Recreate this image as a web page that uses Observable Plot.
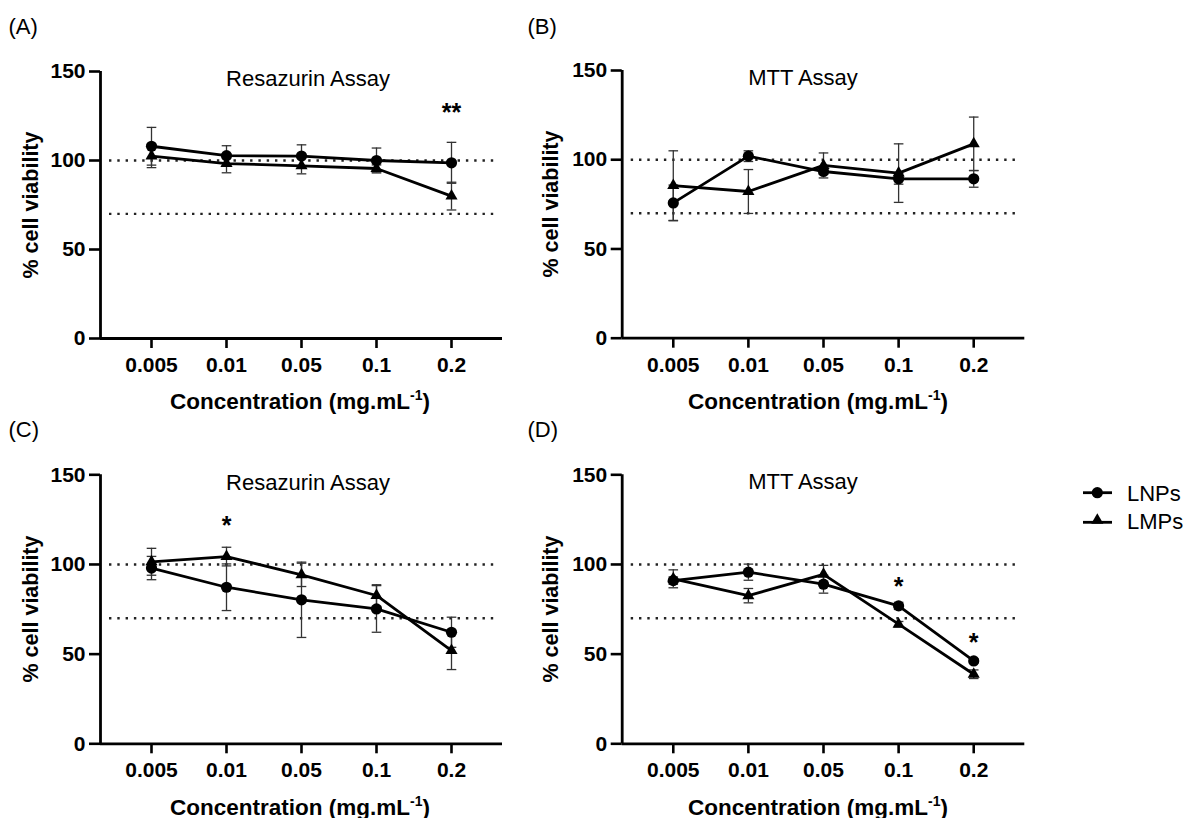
<!DOCTYPE html>
<html><head><meta charset="utf-8">
<script src="https://cdn.jsdelivr.net/npm/d3@7"></script>
<script src="https://cdn.jsdelivr.net/npm/@observablehq/plot@0.6"></script>
<style>
html,body{margin:0;padding:0;background:#fff;}
body{width:1183px;height:818px;position:relative;overflow:hidden;font-family:"Liberation Sans",Arial,sans-serif;color:#000;}
.abs{position:absolute;white-space:nowrap;line-height:21px;font-size:22px;}
.bold{font-weight:bold;}
.xt{font-size:22.5px;}
.yt{font-size:21.5px;}
.ctr{transform:translateX(-50%);}
.rot{transform:translate(-50%,-50%) rotate(-90deg);}
.panel{position:absolute;}
sup{font-size:14px;line-height:0;position:relative;top:-1px;}
</style></head><body>
<script>
// ---- data ----
const concentrations = ["0.005", "0.01", "0.05", "0.1", "0.2"];
const seriesNames = ["LNPs", "LMPs"];
const yTicks = [0, 50, 100, 150];
const thresholds = [100, 70];

// (A) Resazurin Assay
const A_LNPs = [108, 102.7, 102.5, 100, 98.7];
const A_LNPs_sd = [10.6, 5.6, 6.3, 7, 11.5];
const A_LMPs = [102.5, 98.3, 97, 95.5, 80];
const A_LMPs_sd = [6.5, 5.2, 4.5, 2, 7.8];
const A_stars = [{c: "0.2", y: 126.8, t: "**"}];

// (B) MTT Assay
const B_LNPs = [75.8, 102, 93.4, 89.3, 89.3];
const B_LNPs_sd = [10, 3, 1.5, 3, 4.7];
const B_LMPs = [85.5, 82.2, 96.8, 92.5, 108.9];
const B_LMPs_sd = [19.5, 12.3, 7, 16.4, 15];
const B_stars = [];

// (C) Resazurin Assay
const C_LNPs = [98, 87.3, 80.3, 75.2, 62.2];
const C_LNPs_sd = [6.5, 13, 21, 13, 8.4];
const C_LMPs = [101.5, 104.4, 94.2, 82.7, 52];
const C_LMPs_sd = [7.5, 5.2, 6.5, 6, 10.6];
const C_stars = [{c: "0.01", y: 121.7, t: "*"}];

// (D) MTT Assay
const D_LNPs = [91, 95.7, 89, 76.9, 46.2];
const D_LNPs_sd = [2, 4.5, 5, 2, 1.2];
const D_LMPs = [92, 82.6, 94.5, 66.7, 38.8];
const D_LMPs_sd = [5, 4, 5, 1.5, 2.4];
const D_stars = [{c: "0.1", y: 87.7, t: "*"}, {c: "0.2", y: 56.1, t: "*"}];

// ---- drawing ----
const FONT = "'Liberation Sans', Arial, sans-serif";
const capSymbol = {draw(ctx, size) { const w = Math.sqrt(size / Math.PI); ctx.moveTo(-w, 0); ctx.lineTo(w, 0); }};

function addText(html, left, top, cls) {
  const d = document.createElement("div");
  d.className = "abs " + (cls || "");
  d.style.left = left + "px"; d.style.top = top + "px";
  d.innerHTML = html;
  document.body.appendChild(d);
}

function panel(cfg) {
  const rows = [];
  concentrations.forEach((c, i) => {
    rows.push({i, series: seriesNames[0], v: cfg.lnp[i], sd: cfg.lnpSd[i]});
    rows.push({i, series: seriesNames[1], v: cfg.lmp[i], sd: cfg.lmpSd[i]});
  });
  const pad = 0.68;
  const xDomain = [-pad, concentrations.length - 1 + pad];
  const chart = Plot.plot({
    width: cfg.width, height: cfg.height,
    marginLeft: cfg.mL, marginRight: cfg.mR, marginTop: cfg.mT, marginBottom: cfg.mB,
    style: {fontFamily: FONT, fontSize: "21px", fontWeight: "bold", color: "#000", background: "transparent", overflow: "visible"},
    x: {domain: xDomain},
    y: {domain: [0, 150]},
    marks: [
      Plot.ruleY(thresholds, {stroke: "#222", strokeWidth: 2.4, strokeDasharray: "2.4,5.9", insetLeft: 9, insetRight: 4}),
      Plot.ruleX(rows, {x: "i", y1: d => d.v - d.sd, y2: d => d.v + d.sd, stroke: "#333", strokeWidth: 1.3}),
      Plot.dot(rows, {x: "i", y: d => d.v + d.sd, symbol: capSymbol, r: 4.8, fill: "none", stroke: "#333", strokeWidth: 1.3}),
      Plot.dot(rows, {x: "i", y: d => d.v - d.sd, symbol: capSymbol, r: 4.8, fill: "none", stroke: "#333", strokeWidth: 1.3}),
      Plot.line(rows, {x: "i", y: "v", z: "series", stroke: "#000", strokeWidth: 2.8}),
      Plot.dot(rows.filter(d => d.series === seriesNames[0]), {x: "i", y: "v", symbol: "circle", r: 5.6, fill: "#000", stroke: "none"}),
      Plot.dot(rows.filter(d => d.series === seriesNames[1]), {x: "i", y: "v", symbol: "triangle", r: 4.5, fill: "#000", stroke: "none"}),
      Plot.text(cfg.stars, {x: d => concentrations.indexOf(d.c), y: "y", text: "t", fontSize: 25, fontWeight: "bold"}),
      Plot.axisY({ticks: yTicks, tickSize: 11, tickPadding: 4, strokeWidth: 2.6, label: null, fontSize: 21, fontWeight: "bold"}),
      Plot.axisX({ticks: d3.range(concentrations.length), tickFormat: i => concentrations[i], tickSize: 10, tickPadding: 8.5, strokeWidth: 2.6, label: null, fontSize: 21, fontWeight: "bold"}),
      Plot.ruleY([0], {stroke: "#000", strokeWidth: 2.8}),
      Plot.ruleX([xDomain[0]], {stroke: "#000", strokeWidth: 2.8})
    ]
  });
  const wrap = document.createElement("div");
  wrap.className = "panel";
  wrap.style.left = cfg.left + "px"; wrap.style.top = cfg.top + "px";
  wrap.appendChild(chart);
  document.body.appendChild(wrap);

  // texts
  addText(cfg.letter, cfg.left + cfg.letterX, cfg.top + cfg.letterY);
  addText(cfg.title, cfg.left + cfg.titleX, cfg.top + cfg.titleY, "ctr");
  addText("Concentration (mg.mL<sup>-1</sup>)", cfg.left + cfg.xtX, cfg.top + cfg.xtY, "bold xt ctr");
  addText("% cell viability", cfg.left + 31.2, cfg.top + cfg.ytY, "bold yt rot");
}

panel({left: 0, top: 0, width: 520, height: 420, mL: 100, mR: 18, mT: 71, mB: 82,
  lnp: A_LNPs, lnpSd: A_LNPs_sd, lmp: A_LMPs, lmpSd: A_LMPs_sd, stars: A_stars,
  letter: "(A)", letterX: 8.5, letterY: 15.5, title: "Resazurin Assay", titleX: 308, titleY: 68.4,
  xtX: 300, xtY: 391.4, ytY: 204.5});
panel({left: 520, top: 0, width: 520, height: 420, mL: 101.7, mR: 15.7, mT: 70, mB: 82.3,
  lnp: B_LNPs, lnpSd: B_LNPs_sd, lmp: B_LMPs, lmpSd: B_LMPs_sd, stars: B_stars,
  letter: "(B)", letterX: 7.5, letterY: 15.5, title: "MTT Assay", titleX: 283, titleY: 67.2,
  xtX: 298, xtY: 391.4, ytY: 204});
panel({left: 0, top: 400, width: 520, height: 418, mL: 100, mR: 18, mT: 74.3, mB: 74.7,
  lnp: C_LNPs, lnpSd: C_LNPs_sd, lmp: C_LMPs, lmpSd: C_LMPs_sd, stars: C_stars,
  letter: "(C)", letterX: 8.5, letterY: 19, title: "Resazurin Assay", titleX: 308, titleY: 72.2,
  xtX: 300, xtY: 397.2, ytY: 208.8});
panel({left: 520, top: 400, width: 520, height: 418, mL: 101.7, mR: 15.7, mT: 74.3, mB: 74.7,
  lnp: D_LNPs, lnpSd: D_LNPs_sd, lmp: D_LMPs, lmpSd: D_LMPs_sd, stars: D_stars,
  letter: "(D)", letterX: 7.5, letterY: 19, title: "MTT Assay", titleX: 283, titleY: 71.4,
  xtX: 298, xtY: 397.2, ytY: 208.8});

// legend
(function () {
  const svg = d3.select(document.body).append("svg")
    .attr("width", 50).attr("height", 60)
    .style("position", "absolute").style("left", "1075px").style("top", "478px");
  const ys = [14.7, 44.3];
  const syms = [d3.symbol(d3.symbolCircle, Math.PI * 5.6 * 5.6), d3.symbol(d3.symbolTriangle, Math.PI * 4.5 * 4.5)];
  seriesNames.forEach((s, k) => {
    svg.append("line").attr("x1", 8).attr("x2", 37).attr("y1", ys[k]).attr("y2", ys[k]).attr("stroke", "#000").attr("stroke-width", 2.8);
    svg.append("path").attr("d", syms[k]()).attr("transform", `translate(22.3,${ys[k] - (k ? 2 : 0)})`).attr("fill", "#000");
  });
  addText(seriesNames[0], 1127, 483.4);
  addText(seriesNames[1], 1127, 511.4);
})();
</script>
</body></html>
